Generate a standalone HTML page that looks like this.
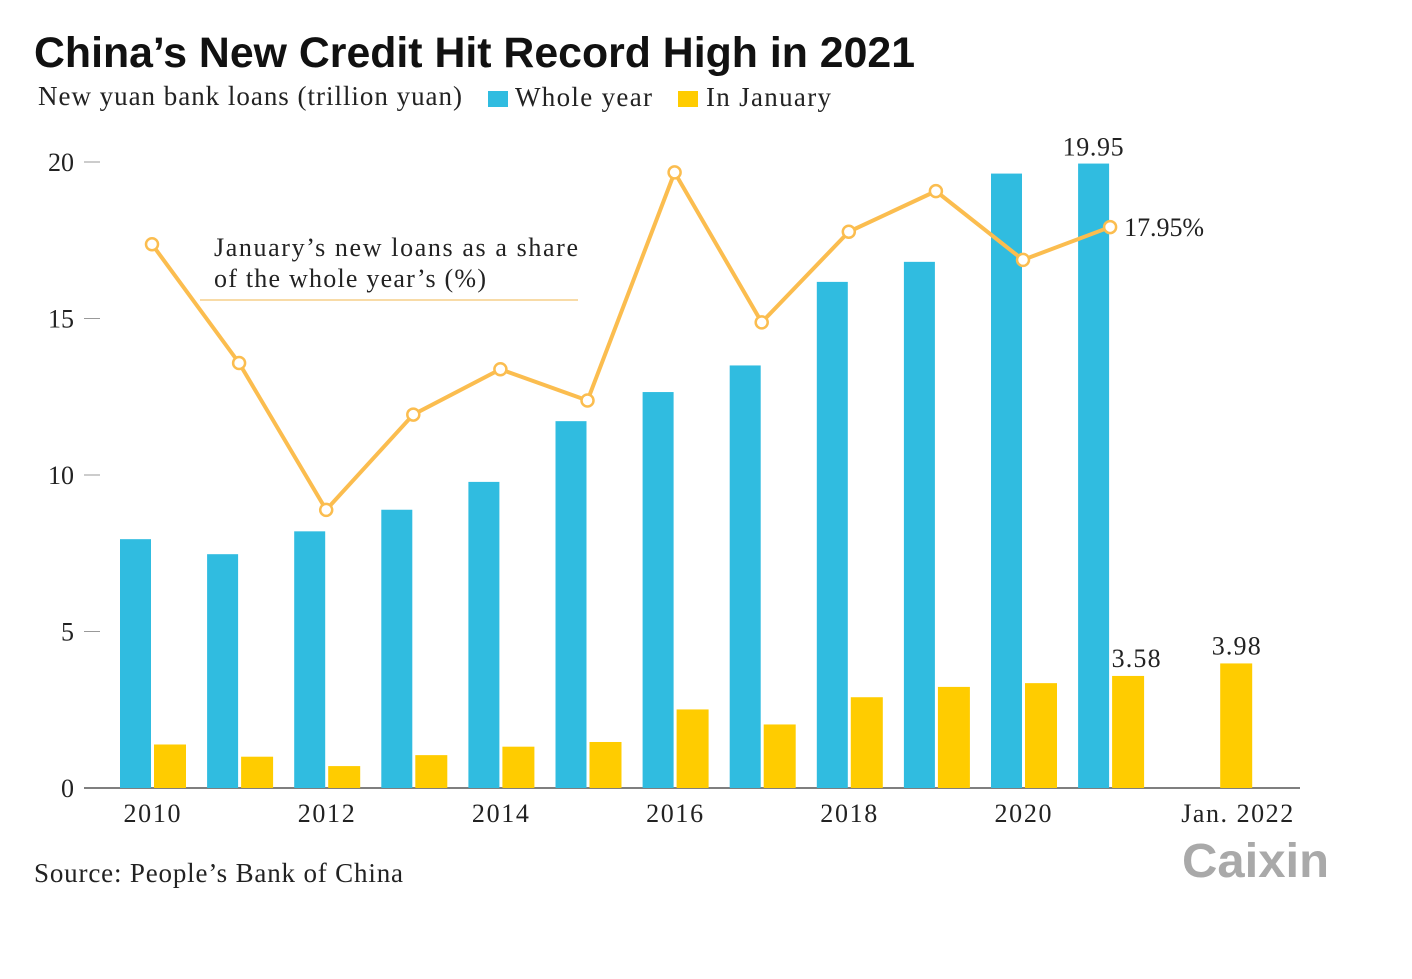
<!DOCTYPE html>
<html><head><meta charset="utf-8"><style>
body{margin:0;background:#fff;width:1412px;height:974px;overflow:hidden}
svg text{font-family:"Liberation Serif",serif;fill:#222}
</style></head><body>
<svg width="1412" height="974">
<text x="34" y="67" textLength="881" lengthAdjust="spacingAndGlyphs" style="font-family:'Liberation Sans',sans-serif;font-weight:bold;font-size:43px;fill:#111">China’s New Credit Hit Record High in 2021</text>
<text x="38" y="105" font-size="27" textLength="424">New yuan bank loans (trillion yuan)</text>
<rect x="488" y="91" width="20" height="16" fill="#30bce0"/>
<text x="515" y="106" font-size="27" textLength="137">Whole year</text>
<rect x="678" y="91" width="20" height="16" fill="#ffcc00"/>
<text x="706" y="106" font-size="27" textLength="125">In January</text>
<g id="axes"></g><g id="bars"></g><g id="line"></g>
<text x="214" y="256" font-size="26" textLength="364">January’s new loans as a share</text>
<text x="214" y="287" font-size="26" textLength="272">of the whole year’s (%)</text>
<line x1="200" y1="300" x2="578" y2="300" stroke="#f5cf8a" stroke-width="1.5"/>
<text x="34" y="882" font-size="27" textLength="369">Source: People’s Bank of China</text>
<text x="1182" y="877" textLength="147" lengthAdjust="spacingAndGlyphs" style="font-family:'Liberation Sans',sans-serif;font-weight:bold;font-size:48px;fill:#a9a9a9">Caixin</text>
</svg>
<script>
const years=[2010,2011,2012,2013,2014,2015,2016,2017,2018,2019,2020,2021];
const wholeYear=[7.95,7.47,8.2,8.89,9.78,11.72,12.65,13.5,16.17,16.81,19.63,19.95];
const january=[1.39,1.0,0.7,1.05,1.32,1.47,2.51,2.03,2.9,3.23,3.35,3.58];
const share=[17.4,13.6,8.9,11.95,13.4,12.4,19.7,14.9,17.8,19.1,16.9,17.95];
const jan2022=3.98;
const yTicks=[0,5,10,15,20];
const xLabels=["2010","2012","2014","2016","2018","2020"];
const NS="http://www.w3.org/2000/svg";
const X=i=>152+87.1*i, Y=v=>788-v*31.3, YS=v=>788-v*31.25;
function mk(p,t,a){const e=document.createElementNS(NS,t);for(const k in a)e.setAttribute(k,a[k]);p.appendChild(e);return e;}
const ax=document.getElementById('axes'),bg=document.getElementById('bars'),lg=document.getElementById('line');
yTicks.forEach(t=>{const tx=mk(ax,'text',{x:74,y:Y(t)+9,'font-size':26,'text-anchor':'end'});tx.textContent=t;


const l=mk(ax,'line',{x1:84,x2:100,y1:Y(t),y2:Y(t),stroke:'#999'});

});
const base=mk(ax,'line',{x1:84,x2:1300,y1:788,y2:788,stroke:'#555','stroke-width':1.5});


xLabels.forEach((s,k)=>{const t=mk(ax,'text',{x:X(k*2),y:822,'font-size':26,'text-anchor':'middle',textLength:57});t.textContent=s;

});
const jl=mk(ax,'text',{x:X(12)+40,y:822,'font-size':26,'text-anchor':'middle',textLength:112});jl.textContent='Jan. 2022';


years.forEach((y,i)=>{
const b=mk(bg,'rect',{x:X(i)-32,y:Y(wholeYear[i]),width:31,height:788-Y(wholeYear[i]),fill:'#30bce0'});


const c=mk(bg,'rect',{x:X(i)+2,y:Y(january[i]),width:32,height:788-Y(january[i]),fill:'#ffcc00'});

});
const j2=mk(bg,'rect',{x:X(12)+23,y:Y(jan2022),width:32,height:788-Y(jan2022),fill:'#ffcc00'});


const pl=mk(lg,'polyline',{points:share.map((v,i)=>X(i)+','+YS(v)).join(' '),fill:'none',stroke:'#fbbd4f','stroke-width':4,'stroke-linejoin':'round'});


share.forEach((v,i)=>{const c=mk(lg,'circle',{cx:X(i),cy:YS(v),r:6,fill:'#fff',stroke:'#fbbd4f','stroke-width':2.5});

});
function lab(x,y,s,n,a,w){const t=mk(lg,'text',{x:x,y:y,'font-size':26,'text-anchor':a||'middle',textLength:w});t.textContent=s;

}
lab(X(11)-17,Y(wholeYear[11])-8,wholeYear[11].toFixed(2),'label-whole-year-2021','middle',61);
lab(X(11)+26,Y(january[11])-9,january[11].toFixed(2),'label-january-2021','middle',49);
lab(X(12)+39,Y(jan2022)-9,jan2022.toFixed(2),'label-january-2022','middle',49);
lab(X(11)+14,YS(share[11])+9,share[11].toFixed(2)+'%','label-share-2021','start',80);
</script>
</body></html>
